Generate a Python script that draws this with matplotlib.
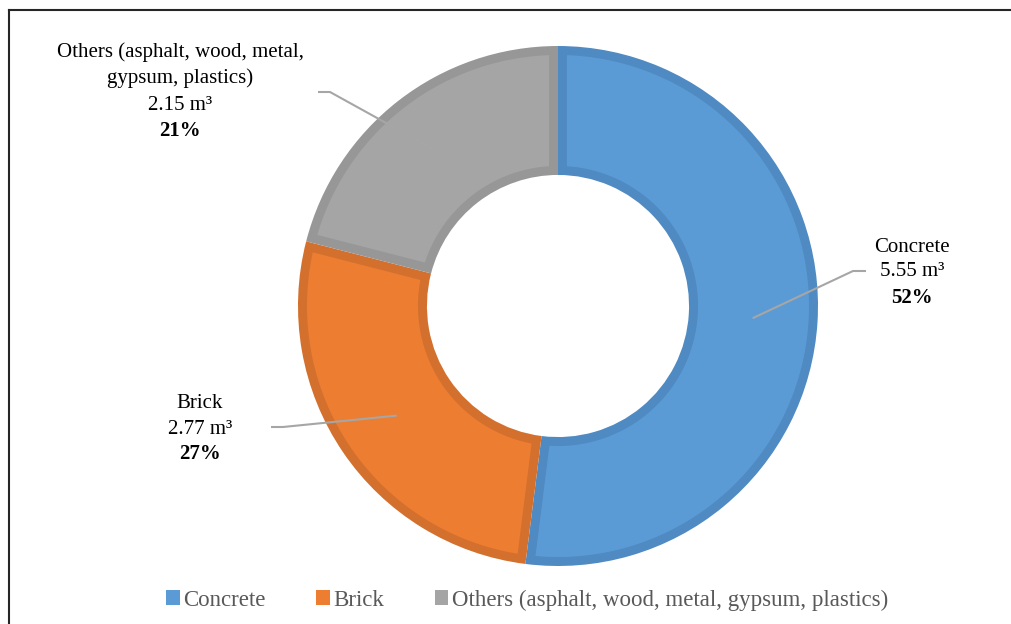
import numpy as np
import matplotlib.pyplot as plt
from matplotlib.patches import Patch, Polygon

# waste composition (m3 and share of total)
materials = ["Concrete", "Brick", "Others (asphalt, wood, metal, gypsum, plastics)"]
volumes = [5.55, 2.77, 2.15]
shares = [52, 27, 21]
label_lines = [["Concrete"], ["Brick"], ["Others (asphalt, wood, metal,", "gypsum, plastics)"]]

fills = ["#5B9BD5", "#ED7D31", "#A5A5A5"]
edges = ["#4F8AC2", "#D4702D", "#979797"]

plt.rcParams['font.family'] = ['Liberation Serif', 'DejaVu Serif']

W, H, dpi = 1011, 624, 100
cx, cy, R = 558, 306, 260  # pixel centre and outer radius of the ring
ring_w = 0.496
rim = 9 / R  # darker rim thickness

fig = plt.figure(figsize=(W / dpi, H / dpi), dpi=dpi)
ax = fig.add_axes([0, 0, 1, 1])


def px(x, y):
    return (x - cx) / R, (cy - y) / R


# dark segments first, lighter inset on top to leave a rim
wedges, _ = ax.pie(shares, radius=1, startangle=90, counterclock=False,
                   colors=edges, wedgeprops=dict(width=ring_w, linewidth=0))

r_out, r_in = 1 - rim, 1 - ring_w + rim
for w, fc in zip(wedges, fills):
    t1, t2 = np.deg2rad(w.theta1), np.deg2rad(w.theta2)
    a_out = np.arcsin(rim / r_out)
    a_in = np.arcsin(rim / r_in)
    outer = np.linspace(t1 + a_out, t2 - a_out, 200)
    inner = np.linspace(t2 - a_in, t1 + a_in, 200)
    xs = np.r_[r_out * np.cos(outer), r_in * np.cos(inner)]
    ys = np.r_[r_out * np.sin(outer), r_in * np.sin(inner)]
    ax.add_patch(Polygon(np.c_[xs, ys], closed=True, facecolor=fc, edgecolor='none'))

# pie() resets the view, so fix the limits afterwards
ax.set_xlim(-cx / R, (W - cx) / R)
ax.set_ylim(-(H - cy) / R, cy / R)
ax.set_aspect('equal')
ax.axis('off')

# label blocks: (centre x, line centre y's) in pixels, elbow end point
blocks = [
    (912, [247, 272, 298], (853, 271), (866, 271)),
    (200, [404, 429, 454], (283, 427), (271, 427)),
    (180, [52, 78, 105, 131], (330, 92), (318, 92)),
]

for i, (w, (tx, ys, elbow, end)) in enumerate(zip(wedges, blocks)):
    mid = np.deg2rad((w.theta1 + w.theta2) / 2)
    r0 = 0.75
    x0, y0 = r0 * np.cos(mid), r0 * np.sin(mid)
    ex, ey = px(*elbow)
    fx, fy = px(*end)
    ax.plot([x0, ex, fx], [y0, ey, fy], color="#A6A6A6", lw=1.5,
            solid_capstyle='butt', zorder=3)
    lines = label_lines[i] + [f"{volumes[i]:.2f} m\u00b3"]
    for text, y in zip(lines, ys):
        ax.text(*px(tx, y), text, ha='center', va='center', fontsize=15,
                color="black")
    ax.text(*px(tx, ys[-1]), f"{shares[i]}%", ha='center', va='center',
            fontsize=15, fontweight='bold', color="black")

# frame lines on the top and left
fig.add_artist(plt.Line2D([9 / W, 1], [1 - 10 / H, 1 - 10 / H], color="#262626", lw=1.5))
fig.add_artist(plt.Line2D([9 / W, 9 / W], [0, 1 - 10 / H], color="#262626", lw=1.5))

handles = [Patch(facecolor=c, edgecolor='none') for c in fills]
fig.legend(handles, materials, loc='center', bbox_to_anchor=(527 / W, 1 - 600 / H),
           ncol=3, frameon=False, fontsize=16.5, handlelength=0.6, handleheight=0.6,
           handletextpad=0.15, columnspacing=2.2, labelcolor="#595959")

fig.savefig("out.png", dpi=dpi)
